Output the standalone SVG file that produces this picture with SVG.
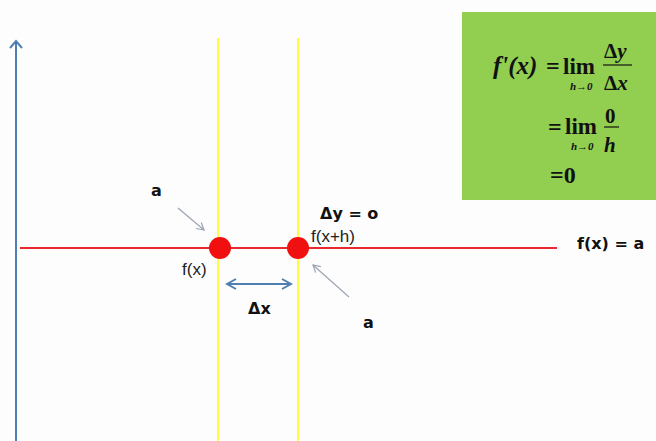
<svg xmlns="http://www.w3.org/2000/svg" width="656" height="441" viewBox="0 0 656 441">
<defs>
<style>
.lbl{font-family:"Liberation Sans",Arial,sans-serif;font-size:17px;fill:#222}
.big{font-family:"DejaVu Sans","Liberation Sans",sans-serif;font-weight:bold;font-size:16px;fill:#111}
.m{font-family:"Liberation Serif","Times New Roman",serif;font-weight:bold;fill:#111}
.ptr{stroke:#9aa3b0;stroke-width:1.2;fill:none}
</style>
<marker id="ga" markerWidth="10" markerHeight="10" refX="8" refY="5" orient="auto" markerUnits="userSpaceOnUse">
<path d="M1,1 L8,5 L1,9" fill="none" stroke="#9aa3b0" stroke-width="1.2"/>
</marker>
<marker id="ba" markerWidth="12" markerHeight="12" refX="10" refY="6" orient="auto-start-reverse" markerUnits="userSpaceOnUse">
<path d="M1,1 L10,6 L1,11" fill="none" stroke="#4f7fb0" stroke-width="2"/>
</marker>
<marker id="ax" markerWidth="14" markerHeight="14" refX="7" refY="7" orient="auto" markerUnits="userSpaceOnUse">
<path d="M1,1 L8,7 L1,13" fill="none" stroke="#4f7fb0" stroke-width="2"/>
</marker>
</defs>
<rect width="656" height="441" fill="#fdfdfd"/>
<g id="formula">
<rect x="462" y="12" width="194" height="188" fill="#92cf50"/>
<text class="m" x="493" y="74" font-size="25" font-style="italic">f'(x)</text>
<text class="m" x="546" y="74" font-size="24">=</text>
<text class="m" x="563" y="74" font-size="23">lim</text>
<text class="m" x="570" y="90" font-size="11" font-style="italic">h→0</text>
<line x1="603" y1="65" x2="632" y2="65" stroke="#111" stroke-width="1.2"/>
<text class="m" x="604" y="58" font-size="21"><tspan>Δ</tspan><tspan font-style="italic">y</tspan></text>
<text class="m" x="604" y="90" font-size="21"><tspan>Δ</tspan><tspan font-style="italic">x</tspan></text>
<text class="m" x="548" y="135" font-size="24">=</text>
<text class="m" x="565" y="134" font-size="23">lim</text>
<text class="m" x="571" y="150" font-size="11" font-style="italic">h→0</text>
<text class="m" x="605" y="123" font-size="21">0</text>
<line x1="604" y1="127" x2="619" y2="127" stroke="#111" stroke-width="1.2"/>
<text class="m" x="604" y="152" font-size="21" font-style="italic">h</text>
<text class="m" x="550" y="183" font-size="24">=0</text>
</g>
<g id="connectors">
<line id="yaxis" x1="16" y1="441" x2="16" y2="42" stroke="#4f7fb0" stroke-width="2" marker-end="url(#ax)"/>
<line id="x-line" x1="218" y1="38" x2="218" y2="441" stroke="#ffff40" stroke-width="2"/>
<line id="xh-line" x1="298" y1="38" x2="298" y2="441" stroke="#ffff40" stroke-width="2"/>
<line id="fx" x1="20" y1="248" x2="557" y2="248" stroke="#e8282e" stroke-width="2"/>
<line class="ptr" x1="178" y1="208" x2="204" y2="230" marker-end="url(#ga)"/>
<line class="ptr" x1="349" y1="297" x2="313" y2="265" marker-end="url(#ga)"/>
<line x1="227" y1="284" x2="291" y2="284" stroke="#4f7fb0" stroke-width="2" marker-start="url(#ba)" marker-end="url(#ba)"/>
</g>
<g id="p1"><circle cx="220" cy="248" r="11" fill="#f01010"/></g>
<g id="p2"><circle cx="298" cy="248" r="11" fill="#f01010"/></g>
<g id="labels">
<text class="big" x="151" y="196">a</text>
<text class="big" x="320" y="219">Δy = o</text>
<text class="lbl" x="311" y="242">f(x+h)</text>
<text class="lbl" x="182" y="275">f(x)</text>
<text class="big" x="248" y="314">Δx</text>
<text class="big" x="363" y="328">a</text>
<text class="big" x="577" y="249">f(x) = a</text>
</g>
</svg>
